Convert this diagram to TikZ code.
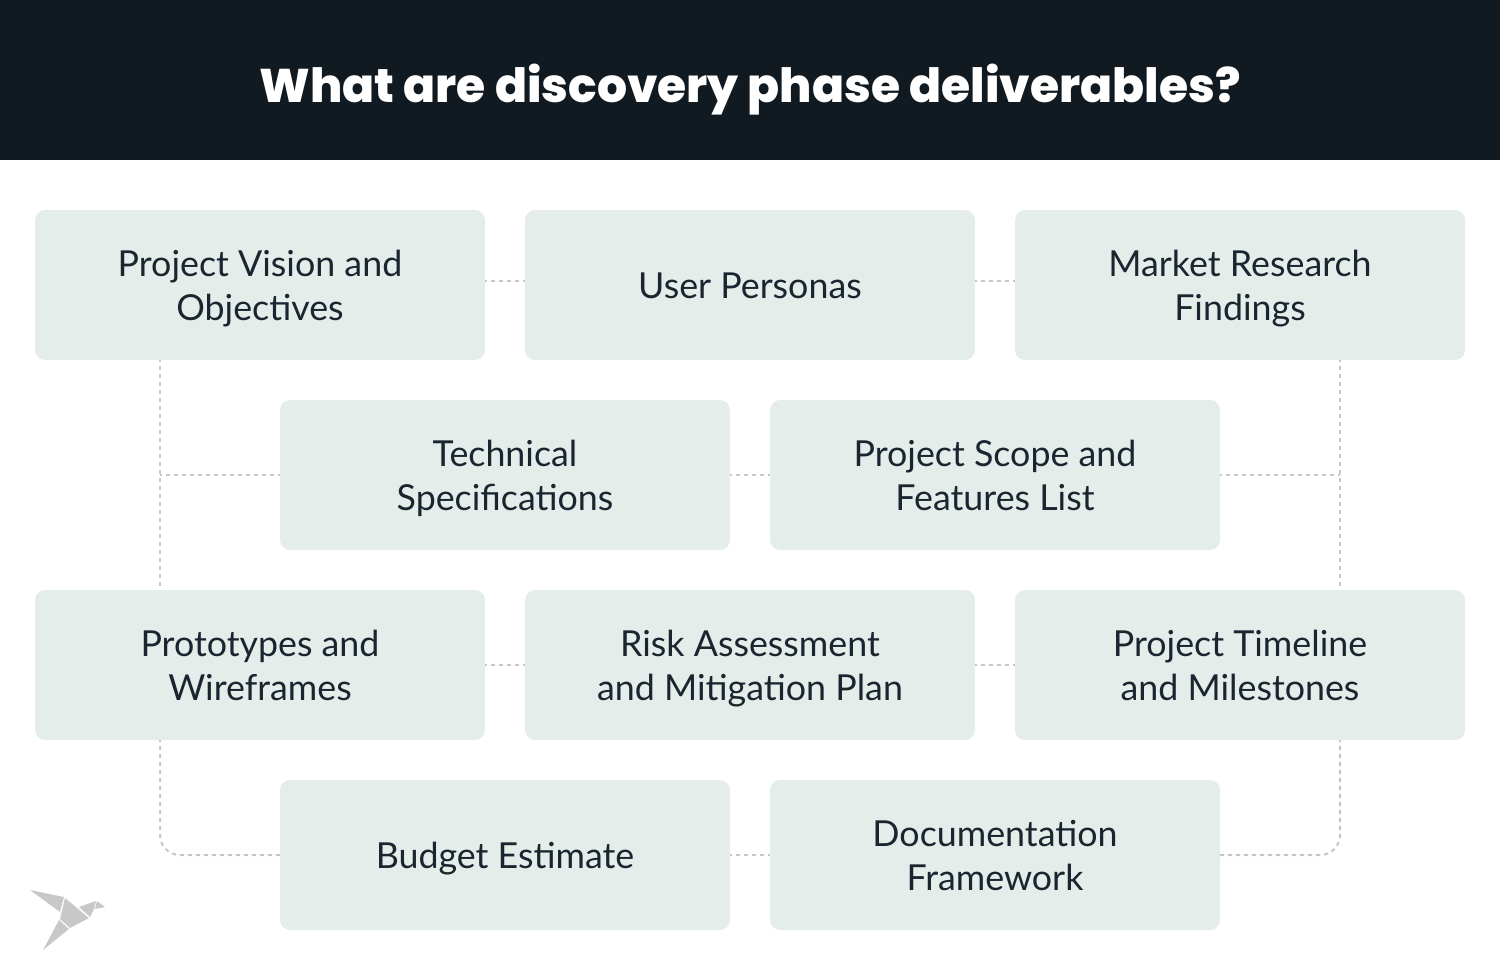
\documentclass[tikz,border=0pt]{standalone}
\usepackage{fontspec}
\setmainfont{Lato}
\newfontfamily\titlefont{Poppins ExtraBold}
\definecolor{headerbg}{HTML}{121A21}
\definecolor{boxbg}{HTML}{E5EDEB}
\definecolor{boxtext}{HTML}{1B2530}
\definecolor{linkgray}{HTML}{C6C6C6}
\definecolor{birdgray}{HTML}{C8C8C8}
\newcommand{\lineset}{\rule[-8.5pt]{0pt}{44pt}}
\tikzset{
  item/.style={fill=boxbg,rounded corners=10pt,minimum width=450pt,minimum height=150pt,
    align=center,inner sep=0pt,text=boxtext,font=\fontsize{35.8}{44}\selectfont},
  link/.style={draw=linkgray,line width=2pt,dash pattern=on 4pt off 4pt,dash phase=2pt},
  bird/.style={fill=birdgray,draw=none}
}
\begin{document}
\begin{tikzpicture}[x=1pt,y=-1pt]
  \useasboundingbox (0,0) rectangle (1500,980);
  % Header
  \fill[headerbg] (0,0) rectangle (1500,160);
  \node[text=white,font=\titlefont\fontsize{47.2}{56}\selectfont] (title) at (750,90)
    {What are discovery phase deliverables?};
  % Boxes, row by row
  \node[item] (vision) at (260,285) {\lineset Project Vision and\\\lineset Objectives};
  \node[item] (personas) at (750,285) {\lineset User Personas};
  \node[item] (market) at (1240,285) {\lineset Market Research\\\lineset Findings};
  \node[item] (technical) at (505,475) {\lineset Technical\\\lineset Specifications};
  \node[item] (scope) at (995,475) {\lineset Project Scope and\\\lineset Features List};
  \node[item] (prototypes) at (260,665) {\lineset Prototypes and\\\lineset Wireframes};
  \node[item] (risk) at (750,665) {\lineset Risk Assessment\\\lineset and Mitigation Plan};
  \node[item] (timeline) at (1240,665) {\lineset Project Timeline\\\lineset and Milestones};
  \node[item] (budget) at (505,855) {\lineset Budget Estimate};
  \node[item] (framework) at (995,855) {\lineset Documentation\\\lineset Framework};
  % Row links
  \draw[link] ([yshift=4pt]vision.east) -- ([yshift=4pt]personas.west);
  \draw[link] ([yshift=4pt]personas.east) -- ([yshift=4pt]market.west);
  \draw[link] (technical.east) -- (scope.west);
  \draw[link] (prototypes.east) -- (risk.west);
  \draw[link] (risk.east) -- (timeline.west);
  \draw[link] (budget.east) -- (framework.west);
  % Left and right rails
  \coordinate (lefttop) at ([xshift=-100pt]vision.south);
  \coordinate (leftmid) at ([xshift=-100pt]prototypes.north);
  \coordinate (leftlow) at ([xshift=-100pt]prototypes.south);
  \coordinate (righttop) at ([xshift=100pt]market.south);
  \coordinate (rightmid) at ([xshift=100pt]timeline.north);
  \coordinate (rightlow) at ([xshift=100pt]timeline.south);
  \draw[link] (lefttop) -- (leftmid);
  \draw[link] (righttop) -- (rightmid);
  \draw[link] (technical.west) -- (technical.west -| lefttop);
  \draw[link] (scope.east) -- (scope.east -| righttop);
  \draw[link,rounded corners=20pt] (leftlow) |- (budget.west);
  \draw[link,rounded corners=20pt] (rightlow) |- (framework.east);
  % Bird
  \fill[bird] (30,890) -- (64,897) -- (60,912) -- cycle;
  \fill[bird] (65,898) -- (89,918) -- (70,928) -- (60,919) -- cycle;
  \fill[bird] (79,907) -- (96,901) -- (94,909) -- (90,917) -- cycle;
  \fill[bird] (97,901) -- (105,907) -- (95,909) -- cycle;
  \fill[bird] (59,920) -- (69,929) -- (43,950) -- cycle;
\end{tikzpicture}
\end{document}
